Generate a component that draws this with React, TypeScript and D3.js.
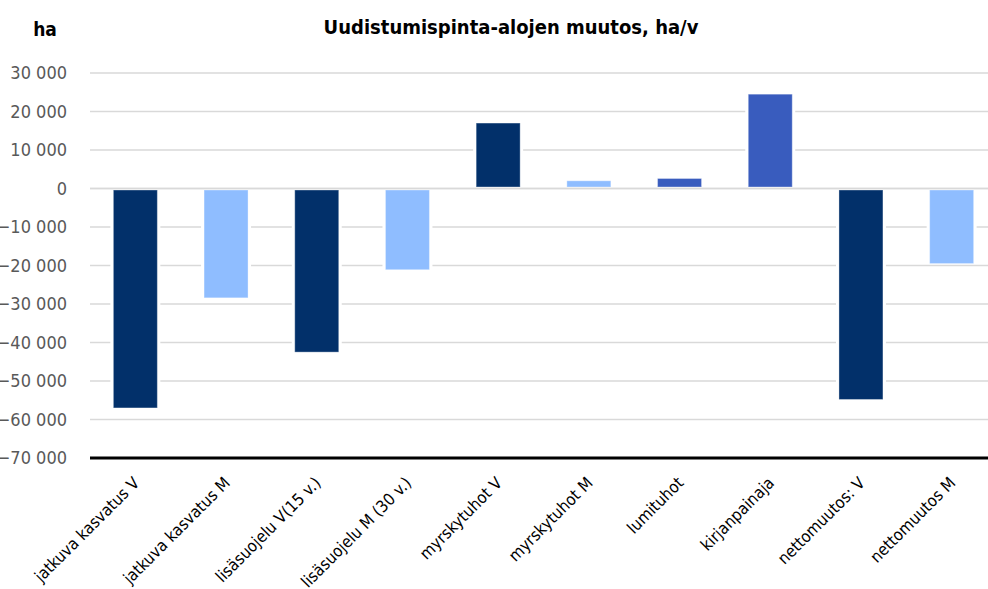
import React from "react";
import * as d3 from "d3";

const categories = [
  "jatkuva kasvatus V",
  "jatkuva kasvatus M",
  "lisäsuojelu V(15 v.)",
  "lisäsuojelu M (30 v.)",
  "myrskytuhot V",
  "myrskytuhot M",
  "lumituhot",
  "kirjanpainaja",
  "nettomuutos: V",
  "nettomuutos M",
];
const values = [-57000, -28400, -42500, -21100, 17000, 2000, 2600, 24500, -54800, -19500];
const colorKeys = ["dark", "light", "dark", "light", "dark", "light", "mid", "mid", "dark", "light"];
const yTicks = [30000, 20000, 10000, 0, -10000, -20000, -30000, -40000, -50000, -60000, -70000];
const title = "Uudistumispinta-alojen muutos, ha/v";
const yUnit = "ha";

const palette: Record<string, string> = {
  dark: "#02306A",
  light: "#8FBDFF",
  mid: "#395CBE",
};

const W = 988;
const H = 589;
const FONT = "'DejaVu Sans Condensed', 'DejaVu Sans', sans-serif";

export default function App() {
  const x = d3.scaleBand<string>().domain(categories).range([90, 997]).paddingInner(0.515).paddingOuter(0.2575);
  const y = d3.scaleLinear().domain([-70000, 30000]).range([458, 73]);
  const fmt = (v: number) => d3.format(",")(v).replace(/,/g, " ");

  return (
    <svg width={W} height={H} style={{ position: "absolute", left: 0, top: 0, background: "#fff" }} fontFamily={FONT}>
      <rect x={0} y={0} width={W} height={H} fill="#fff" />
      <text x={511} y={34} textAnchor="middle" fontSize={20} fontWeight="bold" fill="#000">{title}</text>
      <text x={45} y={36} textAnchor="middle" fontSize={19} fontWeight="bold" fill="#000">{yUnit}</text>
      {yTicks.map((t) => (
        <g key={t}>
          {t !== -70000 && (
            <line x1={90} x2={W} y1={y(t)} y2={y(t)} stroke="#d9d9d9" strokeWidth={1.6} />
          )}
          <text x={67} y={y(t)} dy="0.36em" textAnchor="end" fontSize={18} fill="#595959">{fmt(t)}</text>
        </g>
      ))}
      {categories.map((c, i) => {
        const v = values[i];
        const x0 = x(c)!;
        const bw = x.bandwidth();
        const top = v >= 0 ? y(v) : y(0) + 1.5;
        const bot = v >= 0 ? y(0) - 1.5 : y(v);
        return (
          <g key={c}>
            <rect x={x0 - 3} y={top} width={bw + 6} height={bot - top} fill="#fff" />
            <rect x={x0} y={top} width={bw} height={bot - top} fill={palette[colorKeys[i]]} stroke="#ffffff" strokeOpacity={0.35} strokeWidth={1} />
          </g>
        );
      })}
      <line x1={90} x2={W} y1={y(0)} y2={y(0)} stroke="#d9d9d9" strokeWidth={1.6} />
      <line x1={90} x2={W} y1={y(-70000)} y2={y(-70000)} stroke="#000" strokeWidth={3} />
      {categories.map((c) => {
        const cx = x(c)! + x.bandwidth() / 2;
        return (
          <text key={c} transform={`translate(${cx + 5},${484}) rotate(-45)`} textAnchor="end" fontSize={16.5} fill="#000">{c}</text>
        );
      })}
    </svg>
  );
}
